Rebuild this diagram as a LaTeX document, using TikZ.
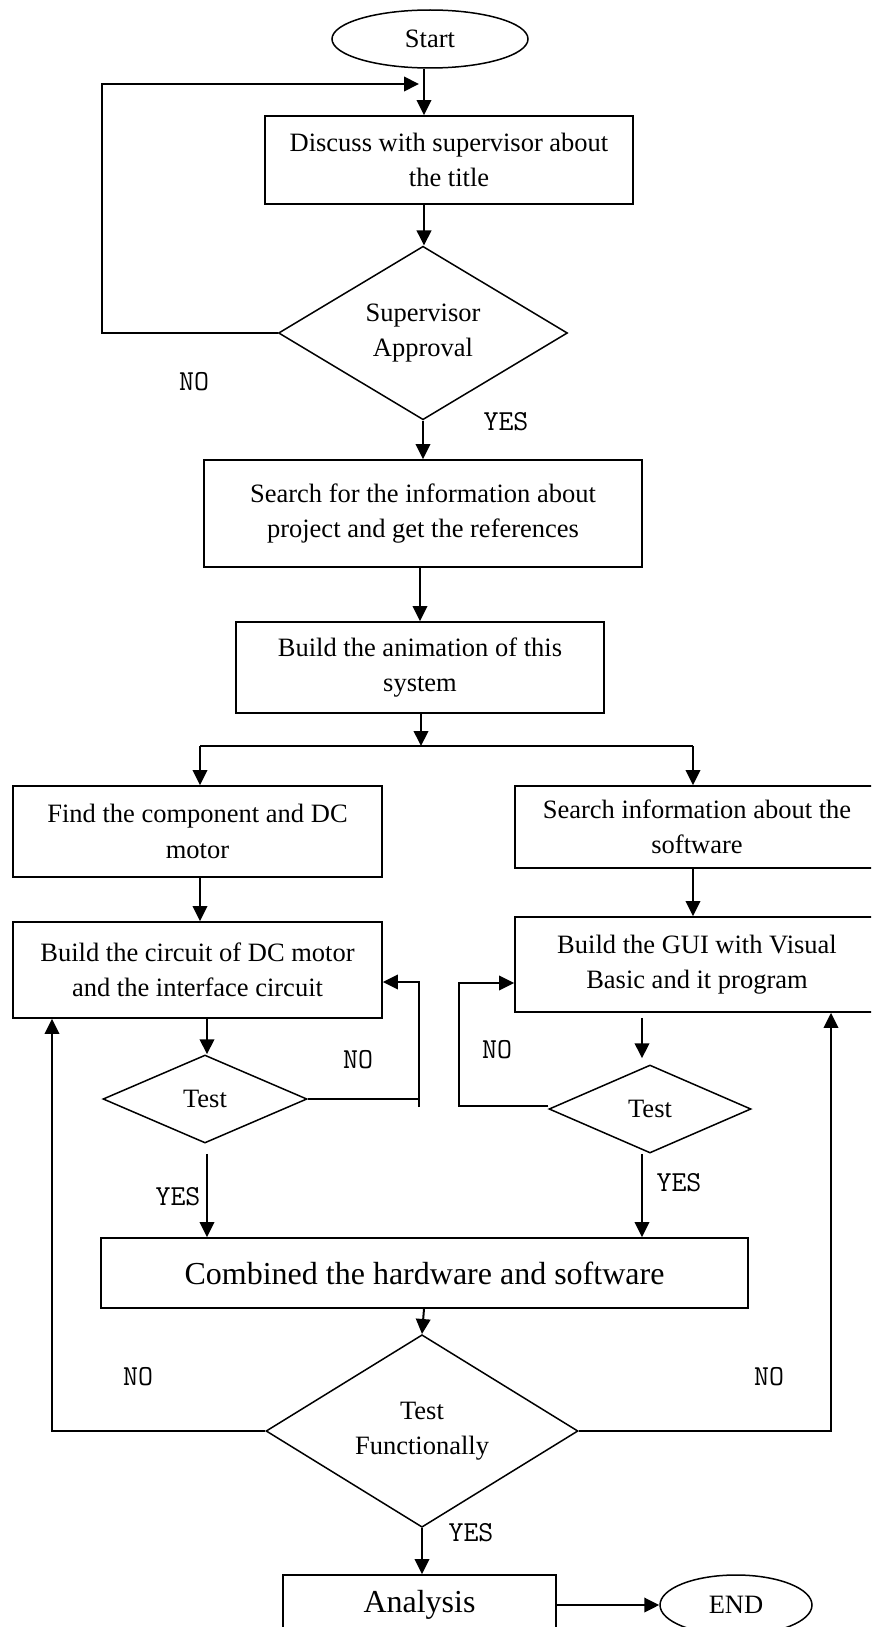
\documentclass[tikz,border=0pt]{standalone}
\usepackage{fontspec}
\setmainfont{Liberation Serif}
\usetikzlibrary{shapes.geometric,arrows.meta,calc}

\tikzset{
  every node/.style={font=\fontsize{26.5}{35.5}\selectfont},
  box/.style={draw, rectangle, line width=1.8pt, inner sep=0pt, align=center},
  bigbox/.style={box, font=\fontsize{32}{38}\selectfont},
  dec/.style={draw, diamond, line width=1.5pt, inner sep=0pt, align=center},
  term/.style={draw, ellipse, line width=1.5pt, inner sep=0pt},
  conn/.style={line width=2pt},
  arr/.style={conn, -{Triangle[length=15pt,width=14.5pt]}},
  lbl/.style={font=\ttfamily\fontsize{29}{29}\selectfont, inner sep=0pt},
}

\begin{document}
\begin{tikzpicture}[x=1pt,y=-1pt]
  \useasboundingbox (0,0) rectangle (871,1627);
  \clip (0,0) rectangle (871,1627);

  % process steps
  \node[term, minimum width=196pt, minimum height=58pt] (start) at (430,39) {Start};
  \node[box, minimum width=368pt, minimum height=88pt] (disc) at (449,160)
    {Discuss with supervisor about\\the title};
  \node[dec, minimum width=289pt, minimum height=151pt] (appr) at (423,333)
    {Supervisor\\Approval};
  \node[box, minimum width=438pt, minimum height=107pt] (srch) at (423,513.5)
    {Search for the information about\\project and get the references};
  \node[box, minimum width=368pt, minimum height=91pt] (anim) at (420,667.5)
    {Build the animation of this\\system};
  \node[box, minimum width=369pt, minimum height=91pt] (find) at (197.5,831.5)
    {Find the component and DC\\motor};
  \node[box, minimum width=364pt, minimum height=82pt] (sinfo) at (697,827)
    {Search information about the\\software};
  \node[box, minimum width=369pt, minimum height=96pt] (circ) at (197.5,970)
    {Build the circuit of DC motor\\and the interface circuit};
  \node[box, minimum width=364pt, minimum height=95pt] (gui) at (697,964.5)
    {Build the GUI with Visual\\Basic and it program};
  \node[dec, minimum width=204pt, minimum height=88pt] (t1) at (205,1099) {Test};
  \node[dec, minimum width=202pt, minimum height=88pt] (t2) at (650,1109) {Test};
  \node[bigbox, minimum width=647pt, minimum height=70pt] (comb) at (424.5,1273)
    {Combined the hardware and software};
  \node[dec, minimum width=312pt, minimum height=144pt] (tf) at (422,1431)
    {Test\\Functionally};
  \node[bigbox, minimum width=273pt, minimum height=60pt] (anl) at (419.5,1605) {Analysis};
  \node[term, minimum width=152pt, minimum height=60pt] (end) at (736,1605) {END};

  % routing columns
  \coordinate (mx) at (424,0);
  \coordinate (lx) at (102,0);
  \coordinate (loopin) at (419,84);
  \coordinate (split) at (421,746);
  \coordinate (lxs) at (200,0);
  \coordinate (rxs) at (693,0);
  \coordinate (yx1) at (207,0);
  \coordinate (rx2) at (642,0);
  \coordinate (n1a) at (419,1107);
  \coordinate (n2x) at (459,0);
  \coordinate (olx) at (52,0);
  \coordinate (orx) at (831,0);

  % top section
  \draw[arr] (start.south -| mx) -- (disc.north -| mx);
  \draw[arr] (disc.south -| mx) -- (appr.north -| mx);
  \draw[arr] (appr.west) -- (appr.west -| lx) |- (loopin);
  \draw[arr] (appr.south) -- (srch.north -| appr.south);
  \draw[arr] (srch.south -| anim.north) -- (anim.north);
  \draw[arr] (anim.south -| split) -- (split);
  \draw[conn] (split -| lxs) -- (split -| rxs);
  \draw[arr] (split -| lxs) -- (find.north -| lxs);
  \draw[arr] (split -| rxs) -- (sinfo.north -| rxs);

  % hardware branch
  \draw[arr] (find.south -| lxs) -- (circ.north -| lxs);
  \draw[arr] (circ.south -| yx1) -- (t1.north -| yx1);
  \draw[conn] (t1.east) -- (t1.east -| n1a);
  \draw[arr] (n1a) |- ($(circ.east)+(0,12)$);
  \draw[arr] ($(t1.south -| yx1)+(0,10)$) -- (comb.north -| yx1);

  % software branch
  \draw[arr] (sinfo.south -| rxs) -- (gui.north -| rxs);
  \draw[arr] ($(gui.south -| rx2)+(0,5)$) -- ($(t2.north -| rx2)+(0,-6)$);
  \draw[arr] ($(t2.west)+(0,-3)$) -- ($(t2.west -| n2x)+(0,-3)$) |- ($(gui.west)+(0,18.5)$);
  \draw[arr] (t2.south -| rx2) -- (comb.north -| rx2);

  % final test
  \draw[arr] (comb.south -| mx) -- (tf.north);
  \draw[arr] (tf.west) -- (tf.west -| olx) -- (circ.south -| olx);
  \draw[arr] (tf.east) -- (tf.east -| orx) -- (gui.south -| orx);
  \draw[arr] (tf.south) -- (anl.north -| tf.south);
  \draw[arr] (anl.east) -- (end.west);

  % branch labels
  \node[lbl] (no1) at (194,382) {NO};
  \node[lbl] (yes1) at (506,422) {YES};
  \node[lbl] (no2) at (358,1060) {NO};
  \node[lbl] (no3) at (497,1050) {NO};
  \node[lbl] (yes2) at (178,1197) {YES};
  \node[lbl] (yes3) at (679,1183) {YES};
  \node[lbl] (no4) at (138,1377) {NO};
  \node[lbl] (no5) at (769,1377) {NO};
  \node[lbl] (yes4) at (471,1533) {YES};
\end{tikzpicture}
\end{document}
